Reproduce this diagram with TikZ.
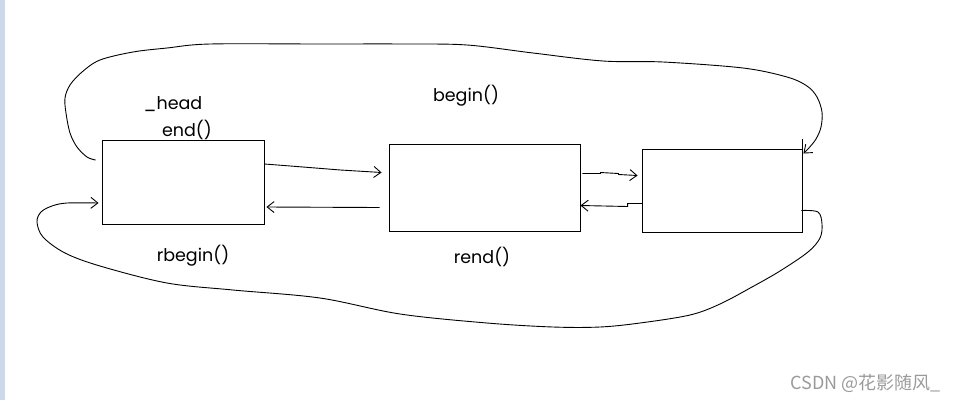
\documentclass[tikz,border=0pt]{standalone}
\usepackage{fontspec}
\setmainfont{Poppins}
\newfontfamily\cjkfont{Noto Sans CJK SC}
\usetikzlibrary{arrows.meta}
\definecolor{stripcol}{HTML}{CDD8E8}
\definecolor{markgray}{HTML}{9A9A9A}
\begin{document}
\begin{tikzpicture}[x=1pt,y=-1pt,
  line width=0.9pt,
  hand/.style={draw=black,line width=0.9pt},
  barb/.style={-{Straight Barb[length=7pt,width=11pt,line width=0.9pt]}},
  cell/.style={draw=black,line width=0.9pt,rectangle,inner sep=0pt},
  lbl/.style={font=\fontsize{17.5}{17.5}\selectfont,anchor=base,inner sep=0pt},
]
\useasboundingbox (0,0) rectangle (956,400);
\fill[stripcol] (0,0) rectangle (5,400);

% boxes
\node[cell,minimum width=162pt,minimum height=84pt] (b1) at (183,182) {};
\node[cell,minimum width=191pt,minimum height=87pt] (b2) at (484.5,187.5) {};
\node[cell,minimum width=160pt,minimum height=83pt] (b3) at (722,190.5) {};

% labels
\node[lbl] (head) at (173,109) {\_head};
\node[lbl] (end) at (187,136) {end()};
\node[lbl] (begin) at (466,101) {begin()};
\node[lbl] (rbegin) at (193,261) {rbegin()};
\node[lbl] (rend) at (482,263) {rend()};
\node[font=\cjkfont\fontsize{18}{18}\selectfont,text=markgray,anchor=base east,inner sep=0pt] (mark) at (941,389) {CSDN @花影随风\_};

% straight links
\coordinate (a1s) at ([yshift=18pt]b1.east);
\coordinate (a1e) at ([xshift=-7pt,yshift=15pt]b2.west);
\draw[hand,barb] (a1s) -- ++(26,2) -- ++(50,4) -- (a1e);
\coordinate (a2s) at ([xshift=-9pt,yshift=-20pt]b2.west);
\coordinate (a2e) at ([xshift=2pt,yshift=-25pt]b1.east);
\draw[hand,barb] (a2s) -- (a2e);
\coordinate (a3s) at ([xshift=2pt,yshift=14pt]b2.east);
\coordinate (a3e) at ([xshift=-4pt,yshift=15pt]b3.west);
\draw[hand,barb] (a3s) -- ++(18,0) -- ++(0,-1) -- ++(18,1) -- ++(0,1) -- (a3e);
\coordinate (a4s) at ([xshift=1pt,yshift=-13pt]b3.west);
\coordinate (a4e) at ([yshift=-18pt]b2.east);
\draw[hand,barb] (a4s) -- ++(-15,0) -- ++(0,3) -- (a4e);

% extra stroke above box 3
\draw[hand] (b3.north east) -- ++(0,-10);

% top loop: from box 1 left to box 3 right
\coordinate (t1s) at ([xshift=-6pt,yshift=22pt]b1.west);
\coordinate (t1e) at ([xshift=1pt,yshift=37pt]b3.east);
\draw[hand,barb] plot[smooth,tension=0.55] coordinates {
  (t1s) (87,157) (77,147) (70,133) (66,113) (65,98) (70,85) (82,72)
  (100,60) (133,52) (167,48) (210,44) (320,44) (405,44) (467,45)
  (533,53) (603,61) (663,62) (743,68) (787,77) (807,86) (817,97)
  (822,112) (821,127) (816,139) (808,149) (t1e)};

% bottom loop: from box 3 right to box 1 left
\coordinate (t2s) at ([xshift=-1pt,yshift=-20pt]b3.east);
\coordinate (t2e) at ([xshift=-3pt,yshift=-21pt]b1.west);
\draw[hand,barb] plot[smooth,tension=0.55] coordinates {
  (t2s) (818,212) (822,224) (820,238) (808,252) (780,271) (752,287)
  (720,304) (690,315) (640,323) (600,327) (553,327) (487,323)
  (400,314) (320,298) (233,290) (167,283) (100,266) (65,253)
  (43,237) (37,222) (41,212) (52,206) (67,203) (t2e)};
\end{tikzpicture}
\end{document}
